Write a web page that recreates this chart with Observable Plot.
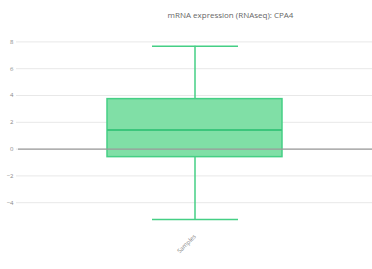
<!DOCTYPE html>
<html><head><meta charset="utf-8">
<script src="https://cdn.jsdelivr.net/npm/d3@7"></script>
<script src="https://cdn.jsdelivr.net/npm/@observablehq/plot@0.6"></script>
<style>body{margin:0;background:#fff;font-family:"Open Sans",sans-serif}</style>
</head><body><div id="chart"></div>
<script>
const title = "mRNA expression (RNAseq): CPA4";
const categories = ["Samples"];
const whiskerLow = [-5.25];
const q1 = [-0.6];
const median = [1.42];
const q3 = [3.73];
const whiskerHigh = [7.68];
const yTicks = [-4, -2, 0, 2, 4, 6, 8];

const data = categories.map((c, i) => ({
  cat: c, lo: whiskerLow[i], q1: q1[i], med: median[i], q3: q3[i], hi: whiskerHigh[i]
}));

const green = "#45cf85";
const chart = Plot.plot({
  width: 372, height: 269,
  marginTop: 28, marginBottom: 40, marginLeft: 16, marginRight: 0,
  style: {fontFamily: "Open Sans, sans-serif", background: "#fff"},
  x: {domain: categories, padding: 0.34, label: null, tickSize: 0, tickRotate: -45, tickPadding: 4},
  y: {domain: [-6, 9], ticks: yTicks, label: null, tickSize: 0, tickPadding: 3},
  marks: [
    Plot.ruleY(yTicks, {stroke: "#e8e8e8", strokeWidth: 1}),
    Plot.axisY(yTicks, {tickSize: 0, fontSize: 6, fill: "#888", tickPadding: 3, label: null}),
    Plot.axisX({tickSize: 0, tickRotate: -45, fontSize: 6, fill: "#888", label: null, tickPadding: 6}),
    Plot.ruleX(data, {x: "cat", y1: "q3", y2: "hi", stroke: green, strokeWidth: 1.5}),
    Plot.ruleX(data, {x: "cat", y1: "lo", y2: "q1", stroke: green, strokeWidth: 1.5}),
    Plot.barY(data, {x: "cat", y1: "q1", y2: "q3", fill: "#80dfa6", stroke: green, strokeWidth: 1.5}),
    Plot.tickY(data, {x: "cat", y: "med", stroke: "#3cc67c", strokeWidth: 2}),
    Plot.tickY(data, {x: "cat", y: "hi", stroke: green, strokeWidth: 1.5, insetLeft: 45, insetRight: 44}),
    Plot.tickY(data, {x: "cat", y: "lo", stroke: green, strokeWidth: 1.5, insetLeft: 45, insetRight: 44}),
    Plot.ruleY([0], {stroke: "#9a9a9a", strokeWidth: 1.3, insetLeft: 2}),
    Plot.text([title], {frameAnchor: "top", dy: -16, dx: 36, fontSize: 8, fill: "#666"})
  ]
});
document.getElementById("chart").appendChild(chart);
</script></body></html>
